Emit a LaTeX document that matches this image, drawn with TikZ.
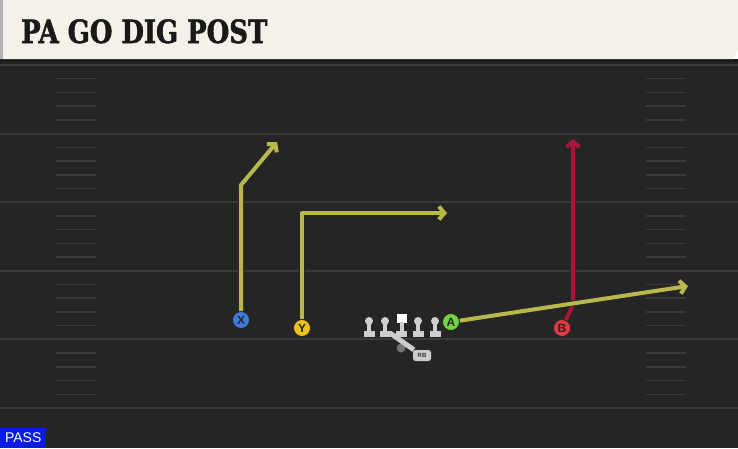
\documentclass[tikz,border=0pt]{standalone}
\usepackage{fontspec}
\setmainfont{Liberation Sans}
\newfontfamily\titlefont{DejaVu Serif Condensed}[BoldFeatures={FakeBold=1.6}]
\usepackage{tikz}
\usetikzlibrary{positioning,arrows.meta}
\usepackage{xcolor}
\definecolor{fieldbg}{HTML}{252525}
\definecolor{fieldline}{HTML}{3A3A3A}
\definecolor{headerbg}{HTML}{F4F1EA}
\definecolor{routeyellow}{HTML}{B9B84C}
\definecolor{routered}{HTML}{A8163A}
\definecolor{recx}{HTML}{3E7BDA}
\definecolor{recy}{HTML}{F2C21C}
\definecolor{reca}{HTML}{6FD43F}
\definecolor{recb}{HTML}{E23A3F}
\definecolor{passblue}{HTML}{0B1BE6}

\begin{document}
\begin{tikzpicture}[x=1pt, y=-1pt, >=Latex]
\tikzstyle{player} = [circle, draw=black!85, line width=0.8pt, minimum size=17pt, inner sep=0pt, font=\bfseries\fontsize{12}{12}\selectfont, text=black!85]
\tikzstyle{route} = [line width=4pt, line join=round, -{Straight Barb[length=5.5pt, width=13pt]}, preaction={draw=black!85, line width=6pt}]
\tikzstyle{yardline} = [fieldline, line width=2pt]
\tikzstyle{hash} = [fieldline, line width=1.5pt]
\tikzstyle{lineman} = [fill=gray!38]

\useasboundingbox (0,0) rectangle (738,448);
\fill[fieldbg] (0,59) rectangle (738,448);
\fill[black!90] (0,59) rectangle (738,62);

% field
\foreach \i in {0,5,...,25}
  \draw[yardline] (0,65+13.72*\i) -- (738,65+13.72*\i);
\foreach \i in {1,...,24} {
  \pgfmathtruncatemacro\r{mod(\i,5)}
  \ifnum\r>0
    \draw[hash] (56,65+13.72*\i) -- (96,65+13.72*\i);
    \draw[hash] (646,65+13.72*\i) -- (686,65+13.72*\i);
  \fi
}

% header
\fill[headerbg] (0,0) -- (738,0) -- (738,50) -- (733,59) -- (0,59) -- cycle;
\fill[gray!60] (0,0) rectangle (3,59);
\node[anchor=base west, inner sep=0pt, text=black!90, font=\titlefont\bfseries\fontsize{32}{32}\selectfont] (title) at (21,43) {\scalebox{0.9}[1]{PA GO DIG POST}};

% line
\foreach \lx in {369,385,418,435} {
  \fill[lineman] (\lx,321) circle (4);
  \fill[lineman] (\lx-2,321) rectangle (\lx+2,332);
  \fill[lineman] (\lx-5.5,331) rectangle (\lx+5.5,336.5);
}
\fill[white] (397,314) rectangle (406.5,323);
\fill[lineman] (399.7,322) rectangle (403.7,332);
\fill[lineman] (396,331) rectangle (407,336.5);

\node[circle, fill=black!55, minimum size=9pt, inner sep=0pt] (qb) at (401,348) {};
\node[fill=gray!40, rounded corners=2.5pt, minimum width=18pt, minimum height=11pt, inner sep=0pt, text=black!80, font=\bfseries\fontsize{6}{6}\selectfont] (rb) at (422,355.5) {RB};
\coordinate (rbstart) at (390,333);
\draw[gray!40, line width=5pt] (rbstart) -- (rb);

% receivers
\node[player, fill=recx] (X) at (241,320) {X};
\node[player, fill=recy] (Y) at (302,328) {Y};
\node[player, fill=reca] (A) at (451,322) {A};
\node[player, fill=recb] (B) at (562,328) {B};

\coordinate (xend) at (277,142);
\coordinate (yend) at (447,213);
\coordinate (aend) at (688,286);
\coordinate (bend) at (573,139);

\draw[route, routered] (B) -- (573,305) -- (bend);
\draw[route, routeyellow] (X) -- (241,185) -- (xend);
\draw[route, routeyellow] (Y) -- (302,213) -- (yend);
\draw[route, routeyellow] (A) -- (aend);

\node[anchor=south west, fill=passblue, text=white, minimum width=46pt, minimum height=20pt, inner sep=0pt, font=\fontsize{14}{14}\selectfont] (play) at (0,448) {PASS};
\end{tikzpicture}
\end{document}
